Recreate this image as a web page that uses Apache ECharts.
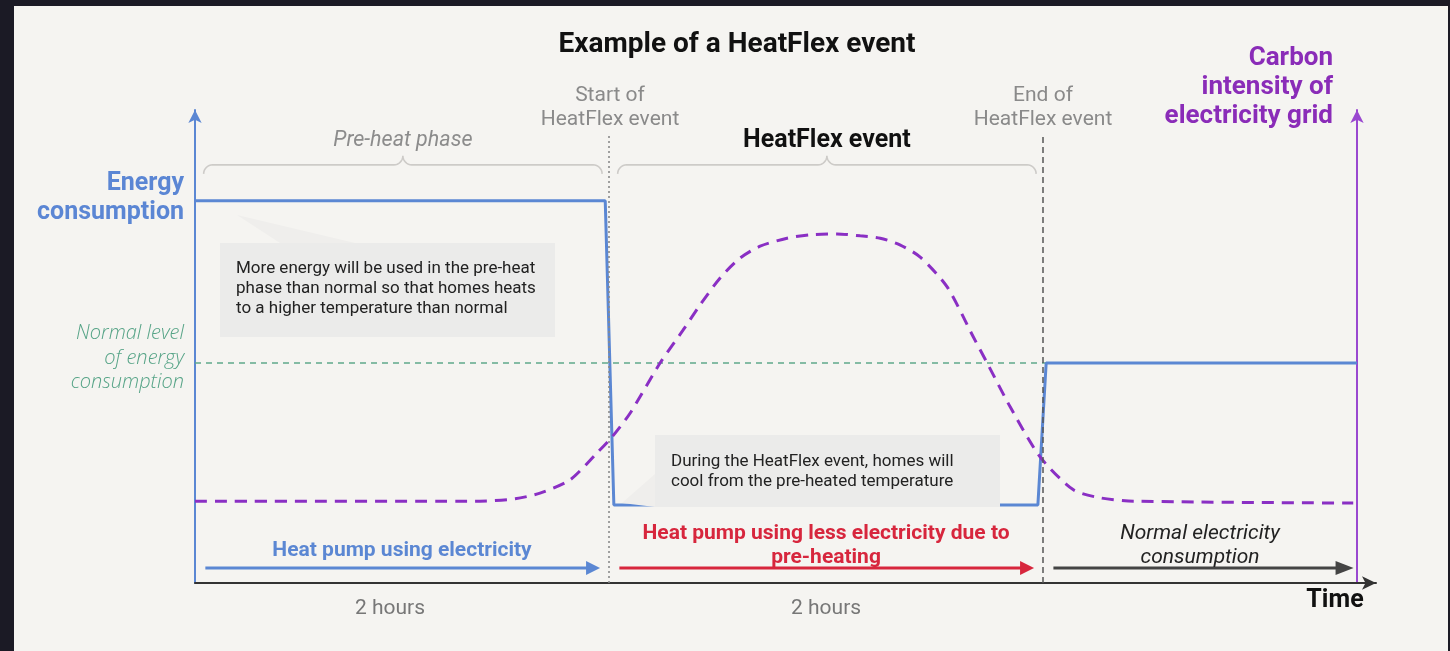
<!DOCTYPE html>
<html><head><meta charset="utf-8">
<script src="https://cdn.jsdelivr.net/npm/echarts@6/dist/echarts.min.js"></script>
<style>
html,body{margin:0;padding:0;background:#1b1a25;width:1450px;height:651px;overflow:hidden;}
#c{position:absolute;left:14px;top:6px;width:1434px;height:645px;background:#f5f4f1;}
</style></head><body><div id="c"></div>
<script>
// time axis in minutes, values in relative units (0-100)
const energyTime  = [0, 118.9, 121.4, 244.3, 246.7, 336.8];
const energyValue = [80.8, 80.8, 16.5, 16.5, 46.5, 46.5];
const normalTime  = [0, 246.7];
const normalValue = [46.5, 46.5];
const carbonTime  = [0, 82.6, 92.8, 100, 108.7, 116.5, 120.9, 126.1, 134.8, 141.5, 146.4, 152.2, 158, 163.8, 171.6, 178.3, 186.1, 192.8, 198.6, 204.3, 210.2, 218, 225.6, 229.6, 236.3, 245, 254.6, 262.4, 272, 335.7];
const carbonValue = [17.3, 17.3, 17.8, 19.0, 21.8, 27.5, 30.9, 35.9, 46.5, 53.5, 58.8, 64.5, 68.7, 71.2, 72.9, 73.6, 73.8, 73.4, 72.9, 71.5, 68.9, 62.6, 52.0, 46.5, 37.2, 26.6, 19.7, 18.0, 17.3, 16.9];
const phaseBounds = [0, 120, 245.8, 336.8];
const braceLabels = ['Pre-heat phase', 'HeatFlex event', ''];
const flowLabels  = ['Heat pump using electricity', 'Heat pump using less electricity due to\npre-heating', 'Normal electricity\nconsumption'];
const durationLabels = ['2 hours', '2 hours', ''];
const eventMarkerTop = 94.7;
const braceLevel = 88.4;

const FONT = 'Roboto, "Noto Sans", sans-serif';
const BLUE = '#5b87d3', PURPLE = '#8a2fc4', RED = '#d7263d';

const braceText = [
  {fill:'#8c8c8c', fontStyle:'italic', fontWeight:'normal', fontSize:21.5},
  {fill:'#111', fontStyle:'normal', fontWeight:'bold', fontSize:25}
];
const flowText = [
  {fill:BLUE, fontStyle:'normal', fontWeight:'bold', fontSize:21},
  {fill:RED, fontStyle:'normal', fontWeight:'bold', fontSize:21},
  {fill:'#222', fontStyle:'italic', fontWeight:'normal', fontSize:21}
];
const arrowColor = [BLUE, RED, '#444'];

function braceShape(x0, x1, yh, r) {
  const pts = [];
  const xm = (x0 + x1) / 2;
  const arc = (cx, cy, a0, a1) => {
    for (let k = 0; k <= 8; k++) {
      const a = a0 + (a1 - a0) * k / 8;
      pts.push([cx + r * Math.cos(a), cy + r * Math.sin(a)]);
    }
  };
  arc(x0 + r, yh + r, Math.PI, 1.5 * Math.PI);
  arc(xm - r, yh - r, 0.5 * Math.PI, 0);
  arc(xm + r, yh - r, Math.PI, 0.5 * Math.PI);
  arc(x1 - r, yh + r, 1.5 * Math.PI, 2 * Math.PI);
  return pts;
}

function renderPhase(params, api) {
  const i = params.dataIndex;
  const s = api.value(0), e = api.value(1);
  const axisY = api.coord([s, 0])[1];
  const xs = api.coord([s, 0])[0], xe = api.coord([e, 0])[0];
  const children = [];
  if (braceLabels[i]) {
    const x0 = api.coord([s + 2.5, 0])[0];
    const x1 = api.coord([e - 2, 0])[0];
    const yh = api.coord([s, braceLevel])[1];
    children.push({type:'polyline', shape:{points:braceShape(x0, x1, yh, 9)},
      style:{stroke:'#cdcbc8', lineWidth:1.6, fill:null}});
    children.push({type:'text', x:(x0 + x1) / 2, y:yh - 24,
      style:Object.assign({text:braceLabels[i], fontFamily:FONT, align:'center', verticalAlign:'middle'}, braceText[i])});
  }
  // flow arrow
  const ax0 = api.coord([s + 3, 0])[0];
  const ax1 = api.coord([e - (i === 2 ? 1 : 2.6), 0])[0];
  const ay = axisY - 15;
  const hl = i === 2 ? 18 : 14, hw = 7;
  children.push({type:'line', shape:{x1:ax0, y1:ay, x2:ax1 - hl + 2, y2:ay},
    style:{stroke:arrowColor[i], lineWidth:3}});
  children.push({type:'polygon', shape:{points:[[ax1, ay], [ax1 - hl, ay - hw], [ax1 - hl, ay + hw]]},
    style:{fill:arrowColor[i]}});
  const twoLines = flowLabels[i].indexOf('\n') >= 0;
  children.push({type:'text', x:(xs + xe) / 2,
    y: twoLines ? axisY - 37.5 : axisY - 32,
    style:Object.assign({text:flowLabels[i], fontFamily:FONT, align:'center', verticalAlign:'middle', lineHeight:24}, flowText[i])});
  if (durationLabels[i]) {
    children.push({type:'text', x:(xs + xe) / 2 - (i === 0 ? 12 : 0), y:axisY + 26,
      style:{text:durationLabels[i], fontFamily:FONT, fontSize:21, fill:'#777', align:'center', verticalAlign:'middle'}});
  }
  return {type:'group', children};
}

const zip = (a, b) => a.map((v, k) => [v, b[k]]);
const phaseData = phaseBounds.slice(0, -1).map((v, k) => [v, phaseBounds[k + 1]]);

const chart = echarts.init(document.getElementById('c'), null, {renderer:'canvas'});
chart.setOption({
  animation:false,
  backgroundColor:'transparent',
  grid:{left:181, right:72, top:104, bottom:68},
  xAxis:{type:'value', min:0, max:342.3,
    axisLine:{show:true, onZero:false, lineStyle:{color:'#333', width:2}, symbol:['none','arrow'], symbolSize:[10,14]},
    axisTick:{show:false}, axisLabel:{show:false}, splitLine:{show:false}},
  yAxis:[
    {type:'value', min:0, max:100,
      axisLine:{show:true, onZero:false, lineStyle:{color:BLUE, width:2}, symbol:['none','arrow'], symbolSize:[10,13]},
      axisTick:{show:false}, axisLabel:{show:false}, splitLine:{show:false}},
    {type:'value', min:0, max:100, position:'right', offset:-19,
      axisLine:{show:true, onZero:false, lineStyle:{color:'#9a48d0', width:2}, symbol:['none','arrow'], symbolSize:[10,13]},
      axisTick:{show:false}, axisLabel:{show:false}, splitLine:{show:false}}
  ],
  series:[
    {name:'Normal level', type:'line', data:zip(normalTime, normalValue), symbol:'none', z:2,
      lineStyle:{color:'#5fa88a', width:1.5, type:[6,5]},
      markLine:{silent:true, symbol:'none', label:{show:false},
        data:[
          [{coord:[phaseBounds[1], 0], lineStyle:{type:[2,3], color:'#8a8a8a', width:1.6}}, {coord:[phaseBounds[1], eventMarkerTop]}],
          [{coord:[phaseBounds[2], 0], lineStyle:{type:[6,4], color:'#555', width:1.5}}, {coord:[phaseBounds[2], eventMarkerTop]}]
        ]}},
    {name:'Energy consumption', type:'line', data:zip(energyTime, energyValue), symbol:'none', z:3,
      lineStyle:{color:BLUE, width:3}},
    {name:'Carbon intensity', type:'line', data:zip(carbonTime, carbonValue), symbol:'none', smooth:0.25, z:4,
      lineStyle:{color:PURPLE, width:3, type:[12,8]}},
    {name:'Phases', type:'custom', data:phaseData, encode:{x:[0,1]}, renderItem:renderPhase, z:5, silent:true}
  ],
  graphic:[
    {type:'text', x:723, y:39, style:{text:'Example of a HeatFlex event', fontFamily:FONT, fontSize:28, fontWeight:'bold', fill:'#111', align:'center', verticalAlign:'middle'}},
    {type:'text', x:596, y:102, style:{text:'Start of\nHeatFlex event', fontFamily:FONT, fontSize:21, lineHeight:24, fill:'#8a8a8a', align:'center', verticalAlign:'middle'}},
    {type:'text', x:1029, y:102, style:{text:'End of\nHeatFlex event', fontFamily:FONT, fontSize:21, lineHeight:24, fill:'#8a8a8a', align:'center', verticalAlign:'middle'}},
    {type:'text', x:170, y:192, style:{text:'Energy\nconsumption', fontFamily:FONT, fontSize:25, fontWeight:'bold', lineHeight:29, fill:'#5b86d4', align:'right', verticalAlign:'middle'}},
    {type:'text', x:1319, y:81, style:{text:'Carbon\nintensity of\nelectricity grid', fontFamily:FONT, fontSize:26, fontWeight:'bold', lineHeight:29, fill:'#8a2cb8', align:'right', verticalAlign:'middle'}},
    {type:'text', x:170, y:352, style:{text:'Normal level\nof energy\nconsumption', fontFamily:'"Open Sans", ' + FONT, fontSize:20, fontStyle:'italic', fontWeight:300, lineHeight:24.5, fill:'#55a386', align:'right', verticalAlign:'middle'}},
    {type:'text', x:1321, y:595, style:{text:'Time', fontFamily:FONT, fontSize:25, fontWeight:'bold', fill:'#111', align:'center', verticalAlign:'middle'}},
    {type:'polygon', z:100, shape:{points:[[223,209],[266,237],[341,237]]}, style:{fill:'#efeeec'}},
    {type:'rect', z:100, shape:{x:206, y:237, width:335, height:94}, style:{fill:'#ebebea'}},
    {type:'text', z:101, x:222, y:283, style:{text:'More energy will be used in the pre-heat\nphase than normal so that homes heats\nto a higher temperature than normal', fontFamily:FONT, fontSize:17, lineHeight:20, fill:'#222', align:'left', verticalAlign:'middle'}},
    {type:'polygon', z:100, shape:{points:[[608,497],[641,468],[641,501]]}, style:{fill:'#efeeec'}},
    {type:'rect', z:100, shape:{x:641, y:429, width:345, height:72}, style:{fill:'#ebebea'}},
    {type:'text', z:101, x:657, y:465.5, style:{text:'During the HeatFlex event, homes will\ncool from the pre-heated temperature', fontFamily:FONT, fontSize:17, lineHeight:19.5, fill:'#222', align:'left', verticalAlign:'middle'}}
  ]
});
</script></body></html>
